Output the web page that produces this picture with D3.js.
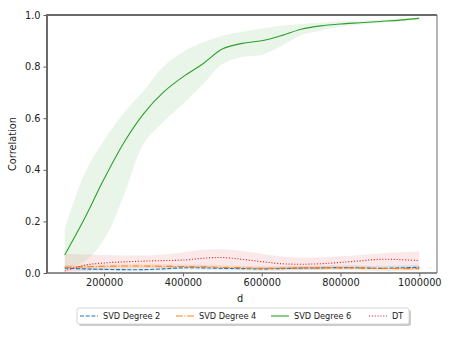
<!DOCTYPE html>
<html><head><meta charset="utf-8">
<script src="https://cdn.jsdelivr.net/npm/d3@7"></script>
<style>body{margin:0;background:#fff}svg{display:block;font-family:"DejaVu Sans",sans-serif}</style>
</head><body><svg id="c" width="452" height="339"></svg>
<script>
const dValues = [100000,150000,200000,250000,300000,350000,400000,450000,500000,550000,600000,650000,700000,750000,800000,850000,900000,950000,1000000];
const svd2Mean = [0.019,0.016,0.014,0.013,0.013,0.016,0.020,0.020,0.018,0.017,0.016,0.017,0.019,0.020,0.021,0.020,0.018,0.020,0.022];
const svd2Lo   = [0.010,0.008,0.007,0.006,0.006,0.008,0.011,0.011,0.010,0.009,0.008,0.009,0.011,0.012,0.012,0.011,0.010,0.011,0.012];
const svd2Hi   = [0.028,0.024,0.021,0.020,0.020,0.024,0.029,0.029,0.026,0.025,0.024,0.025,0.027,0.028,0.030,0.029,0.026,0.029,0.032];
const svd4Mean = [0.022,0.024,0.026,0.027,0.027,0.026,0.025,0.024,0.022,0.020,0.018,0.019,0.020,0.020,0.020,0.019,0.018,0.017,0.017];
const svd4Lo   = [0.013,0.015,0.017,0.018,0.018,0.017,0.016,0.015,0.013,0.012,0.010,0.011,0.012,0.012,0.012,0.011,0.010,0.009,0.009];
const svd4Hi   = [0.031,0.033,0.035,0.036,0.036,0.035,0.034,0.033,0.031,0.028,0.026,0.027,0.028,0.028,0.028,0.027,0.026,0.025,0.025];
const svd6Mean = [0.07,0.21,0.365,0.505,0.617,0.70,0.76,0.81,0.868,0.89,0.90,0.92,0.945,0.958,0.965,0.97,0.975,0.98,0.987];
const svd6Lo   = [0.02,0.045,0.13,0.30,0.50,0.585,0.655,0.73,0.81,0.837,0.845,0.88,0.922,0.94,0.955,0.962,0.97,0.976,0.984];
const svd6Hi   = [0.17,0.385,0.515,0.62,0.705,0.80,0.857,0.893,0.92,0.935,0.948,0.958,0.965,0.97,0.975,0.978,0.982,0.986,0.99];
const dtMean   = [0.008,0.030,0.039,0.043,0.046,0.048,0.050,0.057,0.060,0.053,0.044,0.036,0.034,0.036,0.041,0.047,0.053,0.052,0.048];
const dtLo     = [0.000,0.008,0.014,0.017,0.019,0.020,0.021,0.024,0.026,0.022,0.018,0.014,0.013,0.014,0.017,0.020,0.024,0.022,0.018];
const dtHi     = [0.075,0.072,0.070,0.068,0.068,0.072,0.080,0.090,0.092,0.085,0.075,0.064,0.060,0.061,0.065,0.070,0.076,0.080,0.083];
const yTicks = [0.0,0.2,0.4,0.6,0.8,1.0];
const xTicks = [200000,400000,600000,800000,1000000];
const seriesNames = ["SVD Degree 2","SVD Degree 4","SVD Degree 6","DT"];

const series = [
  {name:seriesNames[0], mean:svd2Mean, lo:svd2Lo, hi:svd2Hi, color:"#1f77b4", dash:"4,1.7"},
  {name:seriesNames[1], mean:svd4Mean, lo:svd4Lo, hi:svd4Hi, color:"#ff7f0e", dash:"6.8,1.7,1.1,1.7"},
  {name:seriesNames[2], mean:svd6Mean, lo:svd6Lo, hi:svd6Hi, color:"#2ca02c", dash:null},
  {name:seriesNames[3], mean:dtMean, lo:dtLo, hi:dtHi, color:"#d62728", dash:"1.1,1.75"}
];

const svg = d3.select("#c");
const L=47, R=437, T=15, B=273;
const x = d3.scaleLinear().domain([55000,1045000]).range([L,R]);
const y = d3.scaleLinear().domain([0,1]).range([B,T]);

const curve = d3.curveCatmullRom.alpha(0.5);
const g = svg.append("g");
series.forEach(s=>{
  const area = d3.area().x((d,i)=>x(dValues[i])).y0((d,i)=>y(s.lo[i])).y1((d,i)=>y(s.hi[i])).curve(curve);
  g.append("path").datum(s.mean).attr("d",area).attr("fill",s.color).attr("fill-opacity",0.1);
});
series.forEach(s=>{
  const line = d3.line().x((d,i)=>x(dValues[i])).y(d=>y(d)).curve(curve);
  g.append("path").datum(s.mean).attr("d",line).attr("fill","none").attr("stroke",s.color)
    .attr("stroke-width",1.1).attr("stroke-dasharray",s.dash);
});

const xAxis = d3.axisBottom(x).tickValues(xTicks).tickFormat(d3.format("d")).tickSize(3.5).tickPadding(3);
const yAxis = d3.axisLeft(y).tickValues(yTicks).tickFormat(d3.format(".1f")).tickSize(3.5).tickPadding(3);
const ax = svg.append("g").attr("transform",`translate(0,${B})`).call(xAxis);
const ay = svg.append("g").attr("transform",`translate(${L},0)`).call(yAxis);
[ax,ay].forEach(a=>{
  a.select(".domain").remove();
  a.selectAll(".tick line").attr("stroke","#333").attr("stroke-width",0.8);
  a.selectAll(".tick text").attr("fill","#222").style("font-size","9.8px").style("font-family","DejaVu Sans");
});
const sp = svg.append("g").attr("stroke","#6a6a6a").attr("fill","none");
sp.append("line").attr("x1",L).attr("x2",L).attr("y1",T-1).attr("y2",B).attr("stroke-width",2);
sp.append("line").attr("x1",L-1).attr("x2",R).attr("y1",T).attr("y2",T).attr("stroke-width",2);
sp.append("line").attr("x1",R).attr("x2",R).attr("y1",T).attr("y2",B).attr("stroke-width",1);
sp.append("line").attr("x1",L).attr("x2",R).attr("y1",B).attr("y2",B).attr("stroke-width",1.3);

svg.append("text").attr("x",240).attr("y",302).attr("text-anchor","middle").style("font-size","9.8px").attr("fill","#222").text("d");
svg.append("text").attr("transform","translate(16,144) rotate(-90)").attr("text-anchor","middle").style("font-size","9.8px").attr("fill","#222").text("Correlation");

const lg = svg.append("g");
lg.append("rect").attr("x",79).attr("y",310).attr("width",332).attr("height",16).attr("rx",2).attr("fill","#999").attr("opacity",0.5);
lg.append("rect").attr("x",77).attr("y",308).attr("width",332).attr("height",16).attr("rx",2).attr("fill","#fff").attr("stroke","#ccc").attr("stroke-width",0.8);
const lx = [80,176,271,369];
series.forEach((s,i)=>{
  lg.append("line").attr("x1",lx[i]).attr("x2",lx[i]+18).attr("y1",316).attr("y2",316)
    .attr("stroke",s.color).attr("stroke-width",1.1).attr("stroke-dasharray",s.dash);
  lg.append("text").attr("x",lx[i]+23).attr("y",319).style("font-size","8.2px").attr("fill","#222").text(s.name);
});
</script></body></html>
